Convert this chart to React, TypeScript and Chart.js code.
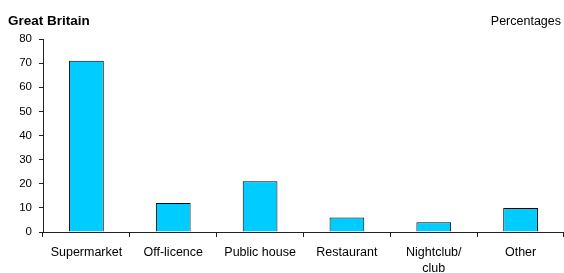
import React, { useEffect, useRef } from "react";
import { Chart, registerables } from "chart.js";

Chart.register(...registerables);

const categories: (string | string[])[] = [
  "Supermarket",
  "Off-licence",
  "Public house",
  "Restaurant",
  ["Nightclub/", "club"],
  "Other",
];
const percentages: number[] = [71, 12, 21, 6, 4, 10];
const leftHeader = "Great Britain";
const rightHeader = "Percentages";

const FONT = "'Liberation Sans', Arial, sans-serif";

export default function App() {
  const ref = useRef<HTMLCanvasElement | null>(null);

  useEffect(() => {
    if (!ref.current) return;
    const headerPlugin = {
      id: "headers",
      afterDraw(chart: any) {
        const ctx = chart.ctx;
        ctx.save();
        ctx.fillStyle = "#000";
        ctx.textBaseline = "alphabetic";
        ctx.font = `bold 13.5px ${FONT}`;
        ctx.textAlign = "left";
        ctx.fillText(leftHeader, 8, 25);
        ctx.font = `12.5px ${FONT}`;
        ctx.textAlign = "right";
        ctx.fillText(rightHeader, 561, 25);
        ctx.restore();
      },
    };
    const chart = new Chart(ref.current, {
      type: "bar",
      data: {
        labels: categories,
        datasets: [
          {
            data: percentages,
            backgroundColor: "#00CCFF",
            borderColor: "#000000",
            borderWidth: 1,
            barPercentage: 0.4,
            categoryPercentage: 1,
          },
        ],
      },
      options: {
        responsive: false,
        animation: false,
        devicePixelRatio: 1,
        layout: { padding: { top: 39, left: 0, right: 0, bottom: 0 } },
        plugins: {
          legend: { display: false },
          tooltip: { enabled: false },
        },
        scales: {
          x: {
            grid: {
              drawOnChartArea: false,
              tickLength: 5,
              color: "#222",
              offset: true,
            },
            border: { color: "#222" },
            ticks: {
              color: "#000",
              font: { family: FONT, size: 12.5, lineHeight: 1.32 },
              padding: 7,
              maxRotation: 0,
              autoSkip: false,
            },
            afterFit(scale: any) {
              scale.height = 41;
            },
          },
          y: {
            min: 0,
            max: 80,
            grid: {
              drawOnChartArea: false,
              tickLength: 4,
              color: "#222",
            },
            border: { color: "#222" },
            ticks: {
              stepSize: 10,
              color: "#000",
              font: { family: FONT, size: 11.5 },
              padding: 7,
            },
            afterFit(scale: any) {
              scale.width = 43;
            },
          },
        },
      },
      plugins: [headerPlugin],
    });
    return () => chart.destroy();
  }, []);

  return (
    <div style={{ position: "fixed", left: 0, top: 0, width: 564, height: 273, background: "#fff" }}>
      <canvas ref={ref} width={564} height={273} style={{ display: "block", width: 564, height: 273 }} />
    </div>
  );
}
